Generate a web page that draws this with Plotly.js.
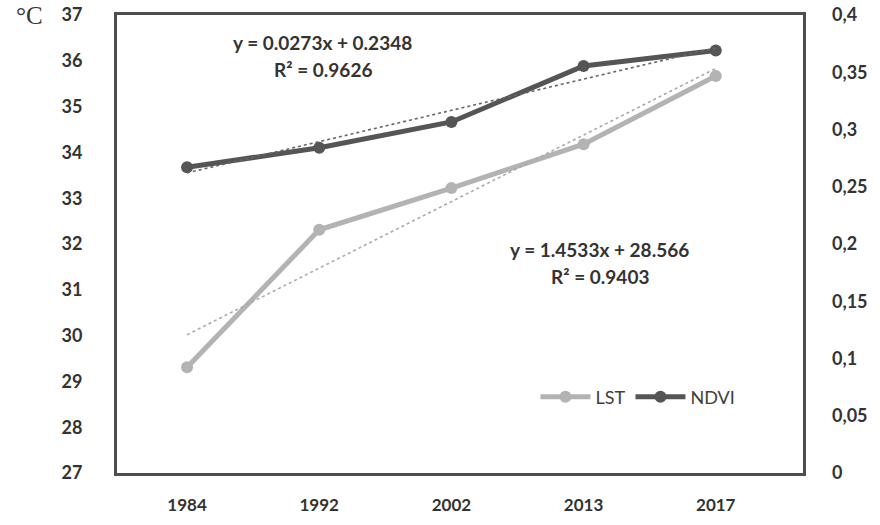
<!DOCTYPE html>
<html>
<head>
<meta charset="utf-8">
<script src="https://cdn.plot.ly/plotly-3.0.1.min.js"></script>
<style>html,body{margin:0;padding:0;background:#fff;} #chart{width:880px;height:525px;}</style>
</head>
<body>
<div id="chart"></div>
<script>
const years = ["1984", "1992", "2002", "2013", "2017"];
const lst = [29.31, 32.31, 33.22, 34.18, 35.67];
const ndvi = [0.267, 0.284, 0.3066, 0.3555, 0.369];
const lstTrend = [30.019, 31.473, 32.926, 34.379, 35.833];
const ndviTrend = [0.2621, 0.2894, 0.3167, 0.344, 0.3713];
const lstTicks = [27, 28, 29, 30, 31, 32, 33, 34, 35, 36, 37];
const ndviTicks = [0, 0.05, 0.1, 0.15, 0.2, 0.25, 0.3, 0.35, 0.4];

const FONT = "Lato, 'Open Sans', sans-serif";
const TXT = "#333333";

const traces = [
  {x: years, y: lst, name: "LST", type: "scatter", mode: "lines+markers", yaxis: "y",
   line: {color: "#b3b3b3", width: 5}, marker: {color: "#b3b3b3", size: 12}},
  {x: years, y: ndvi, name: "NDVI", type: "scatter", mode: "lines+markers", yaxis: "y2",
   line: {color: "#555555", width: 5}, marker: {color: "#555555", size: 12}},
  {x: years, y: lstTrend, name: "LST trend", type: "scatter", mode: "lines", yaxis: "y", showlegend: false,
   line: {color: "#aaaaaa", width: 1.6, dash: "dot"}, hoverinfo: "skip"},
  {x: years, y: ndviTrend, name: "NDVI trend", type: "scatter", mode: "lines", yaxis: "y2", showlegend: false,
   line: {color: "#666666", width: 1.6, dash: "dot"}, hoverinfo: "skip"}
];

const annFont = {family: FONT, size: 19, color: TXT, weight: "bold"};

const layout = {
  width: 880, height: 525,
  margin: {l: 117, r: 77, t: 15, b: 52},
  paper_bgcolor: "#ffffff", plot_bgcolor: "#ffffff",
  separators: ",.",
  showlegend: true,
  font: {family: FONT, size: 16, color: TXT},
  xaxis: {
    type: "category", range: [-0.53, 4.66], showgrid: false, zeroline: false,
    showline: true, linecolor: "#4d4d4d", linewidth: 3, mirror: true,
    ticks: "", ticklabelstandoff: 15,
    tickfont: {family: FONT, size: 17, color: TXT, weight: "bold"}
  },
  yaxis: {
    range: [27, 37], tickvals: lstTicks, showgrid: false, zeroline: false,
    showline: true, linecolor: "#4d4d4d", linewidth: 3, mirror: true,
    ticks: "", ticklabelstandoff: 28,
    tickfont: {family: FONT, size: 18, color: TXT, weight: "bold"}
  },
  yaxis2: {
    range: [0, 0.4], tickvals: ndviTicks, overlaying: "y", side: "right",
    showgrid: false, zeroline: false, showline: false,
    ticks: "", ticklabelstandoff: 28,
    tickfont: {family: FONT, size: 18, color: TXT, weight: "bold"}
  },
  legend: {
    orientation: "h", x: 0.61, y: 0.166, xanchor: "left", yanchor: "middle",
    bgcolor: "rgba(0,0,0,0)", font: {family: FONT, size: 18, color: "#404040"},
    itemwidth: 50
  },
  annotations: [
    {text: "°C", xref: "paper", yref: "paper", x: -0.127, y: 1.0, xanchor: "center", yanchor: "middle",
     showarrow: false, font: {family: "'Liberation Serif', 'DejaVu Serif', serif", size: 25, color: TXT}},
    {text: "y = 0.0273x + 0.2348", xref: "paper", yref: "paper", x: 0.30, y: 0.941,
     xanchor: "center", yanchor: "middle", showarrow: false, font: annFont},
    {text: "R² = 0.9626", xref: "paper", yref: "paper", x: 0.30, y: 0.880,
     xanchor: "center", yanchor: "middle", showarrow: false, font: annFont},
    {text: "y = 1.4533x + 28.566", xref: "paper", yref: "paper", x: 0.704, y: 0.487,
     xanchor: "center", yanchor: "middle", showarrow: false, font: annFont},
    {text: "R² = 0.9403", xref: "paper", yref: "paper", x: 0.704, y: 0.428,
     xanchor: "center", yanchor: "middle", showarrow: false, font: annFont}
  ]
};

Plotly.newPlot("chart", traces, layout, {displayModeBar: false, staticPlot: true});
</script>
</body>
</html>
